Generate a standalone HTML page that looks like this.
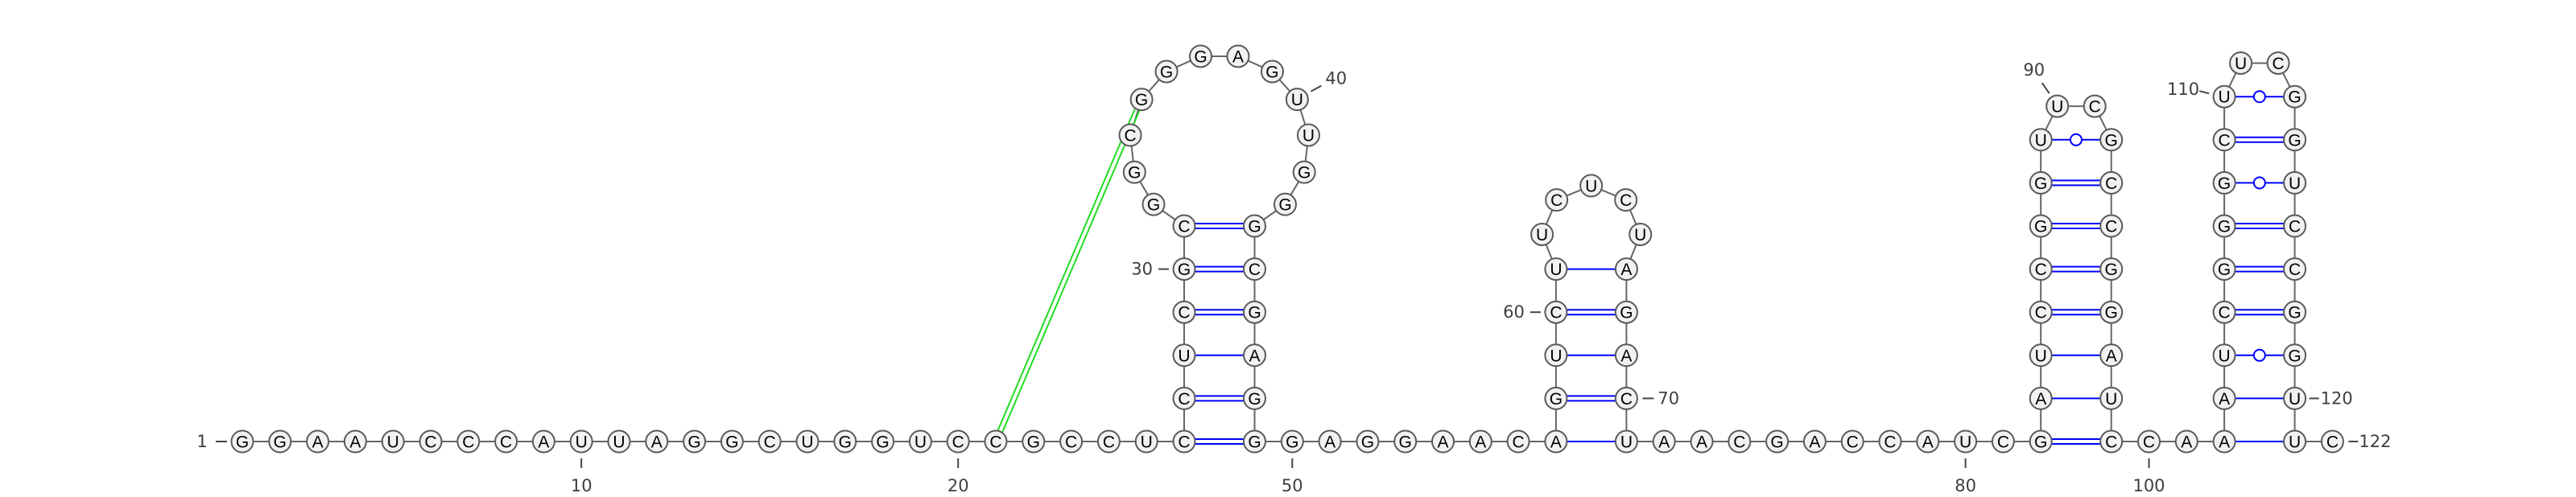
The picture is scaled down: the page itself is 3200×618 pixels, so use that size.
<!DOCTYPE html>
<html><head><meta charset="utf-8">
<style>
html,body{margin:0;padding:0;background:#fff;}
svg{display:block;}
.base circle{fill:#f2f2f2;stroke:#5a5a5a;stroke-width:2;}
.base text{font-family:"Liberation Sans",sans-serif;font-size:21px;fill:#000;text-anchor:middle;dominant-baseline:central;}
.lbl{font-family:"DejaVu Sans","Liberation Sans",sans-serif;font-size:21px;font-weight:normal;fill:#3f3f3f;}
</style></head>
<body>
<svg id="rna" width="3200" height="618" viewBox="0 0 3200 618" xmlns="http://www.w3.org/2000/svg">
<g id="backbone"></g>
<g id="pairs"></g>
<g id="pk"></g>
<g id="bases"></g>
<g id="labels"></g>
</svg>
<script>
// sequence (1-based index = position+1)
const sequence = "GGAAUCCCAUUAGGCUGGUCCGCCUCCUCGCGGCGGGAGUUGGGCGAGGGAGGAACAGUCUUCUCUAGACUAACGACCAUCGAUCCGGUUCGCCGGAUCCAAAUCGGGCUUCGGUCCGGUUC";
// helices: [start, end, length]
const helixStarts = [26, 57, 82, 102];
const helixEnds = [49, 71, 99, 121];
const helixLengths = [6, 5, 8, 9];
// pseudoknot pairs
const pkI = [21];
const pkJ = [35];
// number labels
const tickLabels = [1, 10, 20, 30, 40, 50, 60, 70, 80, 90, 100, 110, 120, 122];

const NS = "http://www.w3.org/2000/svg";
const X0 = 301, Y0 = 549, STEP = 46.8, PAIRW = 87.5, ROWH = 53.6, R = 13.5;
const N = sequence.length;
const pos = new Array(N + 1);
const partner = new Array(N + 1).fill(0);

function mk(tag, attrs, parent) {
  const e = document.createElementNS(NS, tag);
  for (const k in attrs) e.setAttribute(k, attrs[k]);
  parent.appendChild(e);
  return e;
}

let x = X0;
let i = 1;
let h = 0;
while (i <= N) {
  if (h < helixStarts.length && i === helixStarts[h]) {
    const s = helixStarts[h], e = helixEnds[h], L = helixLengths[h];
    const xl = x, xr = x + PAIRW;
    for (let r = 0; r < L; r++) {
      pos[s + r] = [xl, Y0 - r * ROWH];
      pos[e - r] = [xr, Y0 - r * ROWH];
      partner[s + r] = e - r; partner[e - r] = s + r;
    }
    const a1 = s + L - 1, b1 = e - L + 1, n = b1 - a1 - 1;
    const yt = Y0 - (L - 1) * ROWH;
    const d = 46.5, p = PAIRW;
    let lo = p / 2 + 0.001, hi = 1000;
    for (let it = 0; it < 80; it++) {
      const m = (lo + hi) / 2;
      const f = (n + 1) * 2 * Math.asin(Math.min(1, d / (2 * m))) + 2 * Math.asin(Math.min(1, p / (2 * m))) - 2 * Math.PI;
      if (f > 0) lo = m; else hi = m;
    }
    const Rc = (lo + hi) / 2;
    const aa = 2 * Math.asin(d / (2 * Rc)), bb = 2 * Math.asin(p / (2 * Rc));
    const cx = (xl + xr) / 2, cy = yt - Rc * Math.cos(bb / 2);
    let ang = Math.PI / 2 + bb / 2;
    for (let k = 1; k <= n; k++) {
      const t = ang + k * aa;
      pos[a1 + k] = [cx + Rc * Math.cos(t), cy + Rc * Math.sin(t)];
    }
    x = xr + STEP;
    i = e + 1;
    h++;
  } else {
    pos[i] = [x, Y0];
    x += STEP; i++;
  }
}

const gB = document.getElementById('backbone');
const gP = document.getElementById('pairs');
const gK = document.getElementById('pk');
const gN = document.getElementById('bases');
const gL = document.getElementById('labels');

for (let k = 1; k < N; k++) {
  const l = mk('line', {x1: pos[k][0], y1: pos[k][1], x2: pos[k + 1][0], y2: pos[k + 1][1], stroke: '#666', 'stroke-width': 2}, gB);
  
  
}

for (let k = 1; k <= N; k++) {
  const j = partner[k];
  if (!j || j < k) continue;
  const a = sequence[k - 1], b = sequence[j - 1], pr = a + b;
  const x1 = pos[k][0] + R, x2 = pos[j][0] - R, y = pos[k][1];
  const g = mk('g', {}, gP);
  
  
  if (pr === 'GC' || pr === 'CG') {
    mk('line', {x1: x1, y1: y - 3, x2: x2, y2: y - 3, stroke: '#0000ff', 'stroke-width': 2}, g);
    mk('line', {x1: x1, y1: y + 3, x2: x2, y2: y + 3, stroke: '#0000ff', 'stroke-width': 2}, g);
  } else if (pr === 'GU' || pr === 'UG') {
    const m = (x1 + x2) / 2;
    mk('line', {x1: x1, y1: y, x2: m - 7, y2: y, stroke: '#0000ff', 'stroke-width': 2}, g);
    mk('line', {x1: m + 7, y1: y, x2: x2, y2: y, stroke: '#0000ff', 'stroke-width': 2}, g);
    mk('circle', {cx: m, cy: y, r: 7, fill: '#fff', stroke: '#0000ff', 'stroke-width': 2}, g);
  } else {
    mk('line', {x1: x1, y1: y, x2: x2, y2: y, stroke: '#0000ff', 'stroke-width': 2}, g);
  }
}

for (let q = 0; q < pkI.length; q++) {
  const A = pos[pkI[q]], B = pos[pkJ[q]];
  const dx = B[0] - A[0], dy = B[1] - A[1], len = Math.hypot(dx, dy);
  const ux = dx / len, uy = dy / len, nx = -uy * 3, ny = ux * 3;
  const g = mk('g', {}, gK);
  
  
  for (const s of [-1, 1]) {
    mk('line', {x1: A[0] + ux * R + nx * s, y1: A[1] + uy * R + ny * s, x2: B[0] - ux * R + nx * s, y2: B[1] - uy * R + ny * s, stroke: '#22dd22', 'stroke-width': 2}, g);
  }
}

for (let k = 1; k <= N; k++) {
  const g = mk('g', {class: 'base'}, gN);
  
  
  mk('circle', {cx: pos[k][0], cy: pos[k][1], r: R}, g);
  const t = mk('text', {x: pos[k][0], y: pos[k][1] + 1}, g);
  t.textContent = sequence[k - 1];
}

function label(n, tx1, ty1, tx2, ty2, lx, ly, anchor) {
  const g = mk('g', {}, gL);
  
  
  mk('line', {x1: tx1, y1: ty1, x2: tx2, y2: ty2, stroke: '#454545', 'stroke-width': 2}, g);
  const t = mk('text', {x: lx, y: ly, class: 'lbl', 'text-anchor': anchor, 'dominant-baseline': 'central'}, g);
  t.textContent = String(n);
}
for (const n of tickLabels) {
  const [px, py] = pos[n];
  if (n === 1) label(n, px - 33, py, px - 19, py, px - 50, py, 'middle');
  else if (n === 122) label(n, px + 20, py, px + 32, py, px + 33, py, 'start');
  else if (n === 120) label(n, px + 18, py, px + 30, py, px + 32, py, 'start');
  else if (n === 70) label(n, px + 20, py, px + 34, py, px + 39, py, 'start');
  else if (n === 30 || n === 60) label(n, px - 32, py, px - 19, py, px - 39, py, 'end');
  else if (n === 40) label(n, px + 17, py - 10, px + 30, py - 17, px + 35, py - 26, 'start');
  else if (n === 90) label(n, px - 10, py - 16, px - 19, py - 29, px - 29, py - 45, 'middle');
  else if (n === 110) label(n, px - 19, py - 4, px - 31, py - 7, px - 31, py - 9, 'end');
  else label(n, px, py + 21, px, py + 33, px, py + 55, 'middle');
}
</script>
</body></html>
